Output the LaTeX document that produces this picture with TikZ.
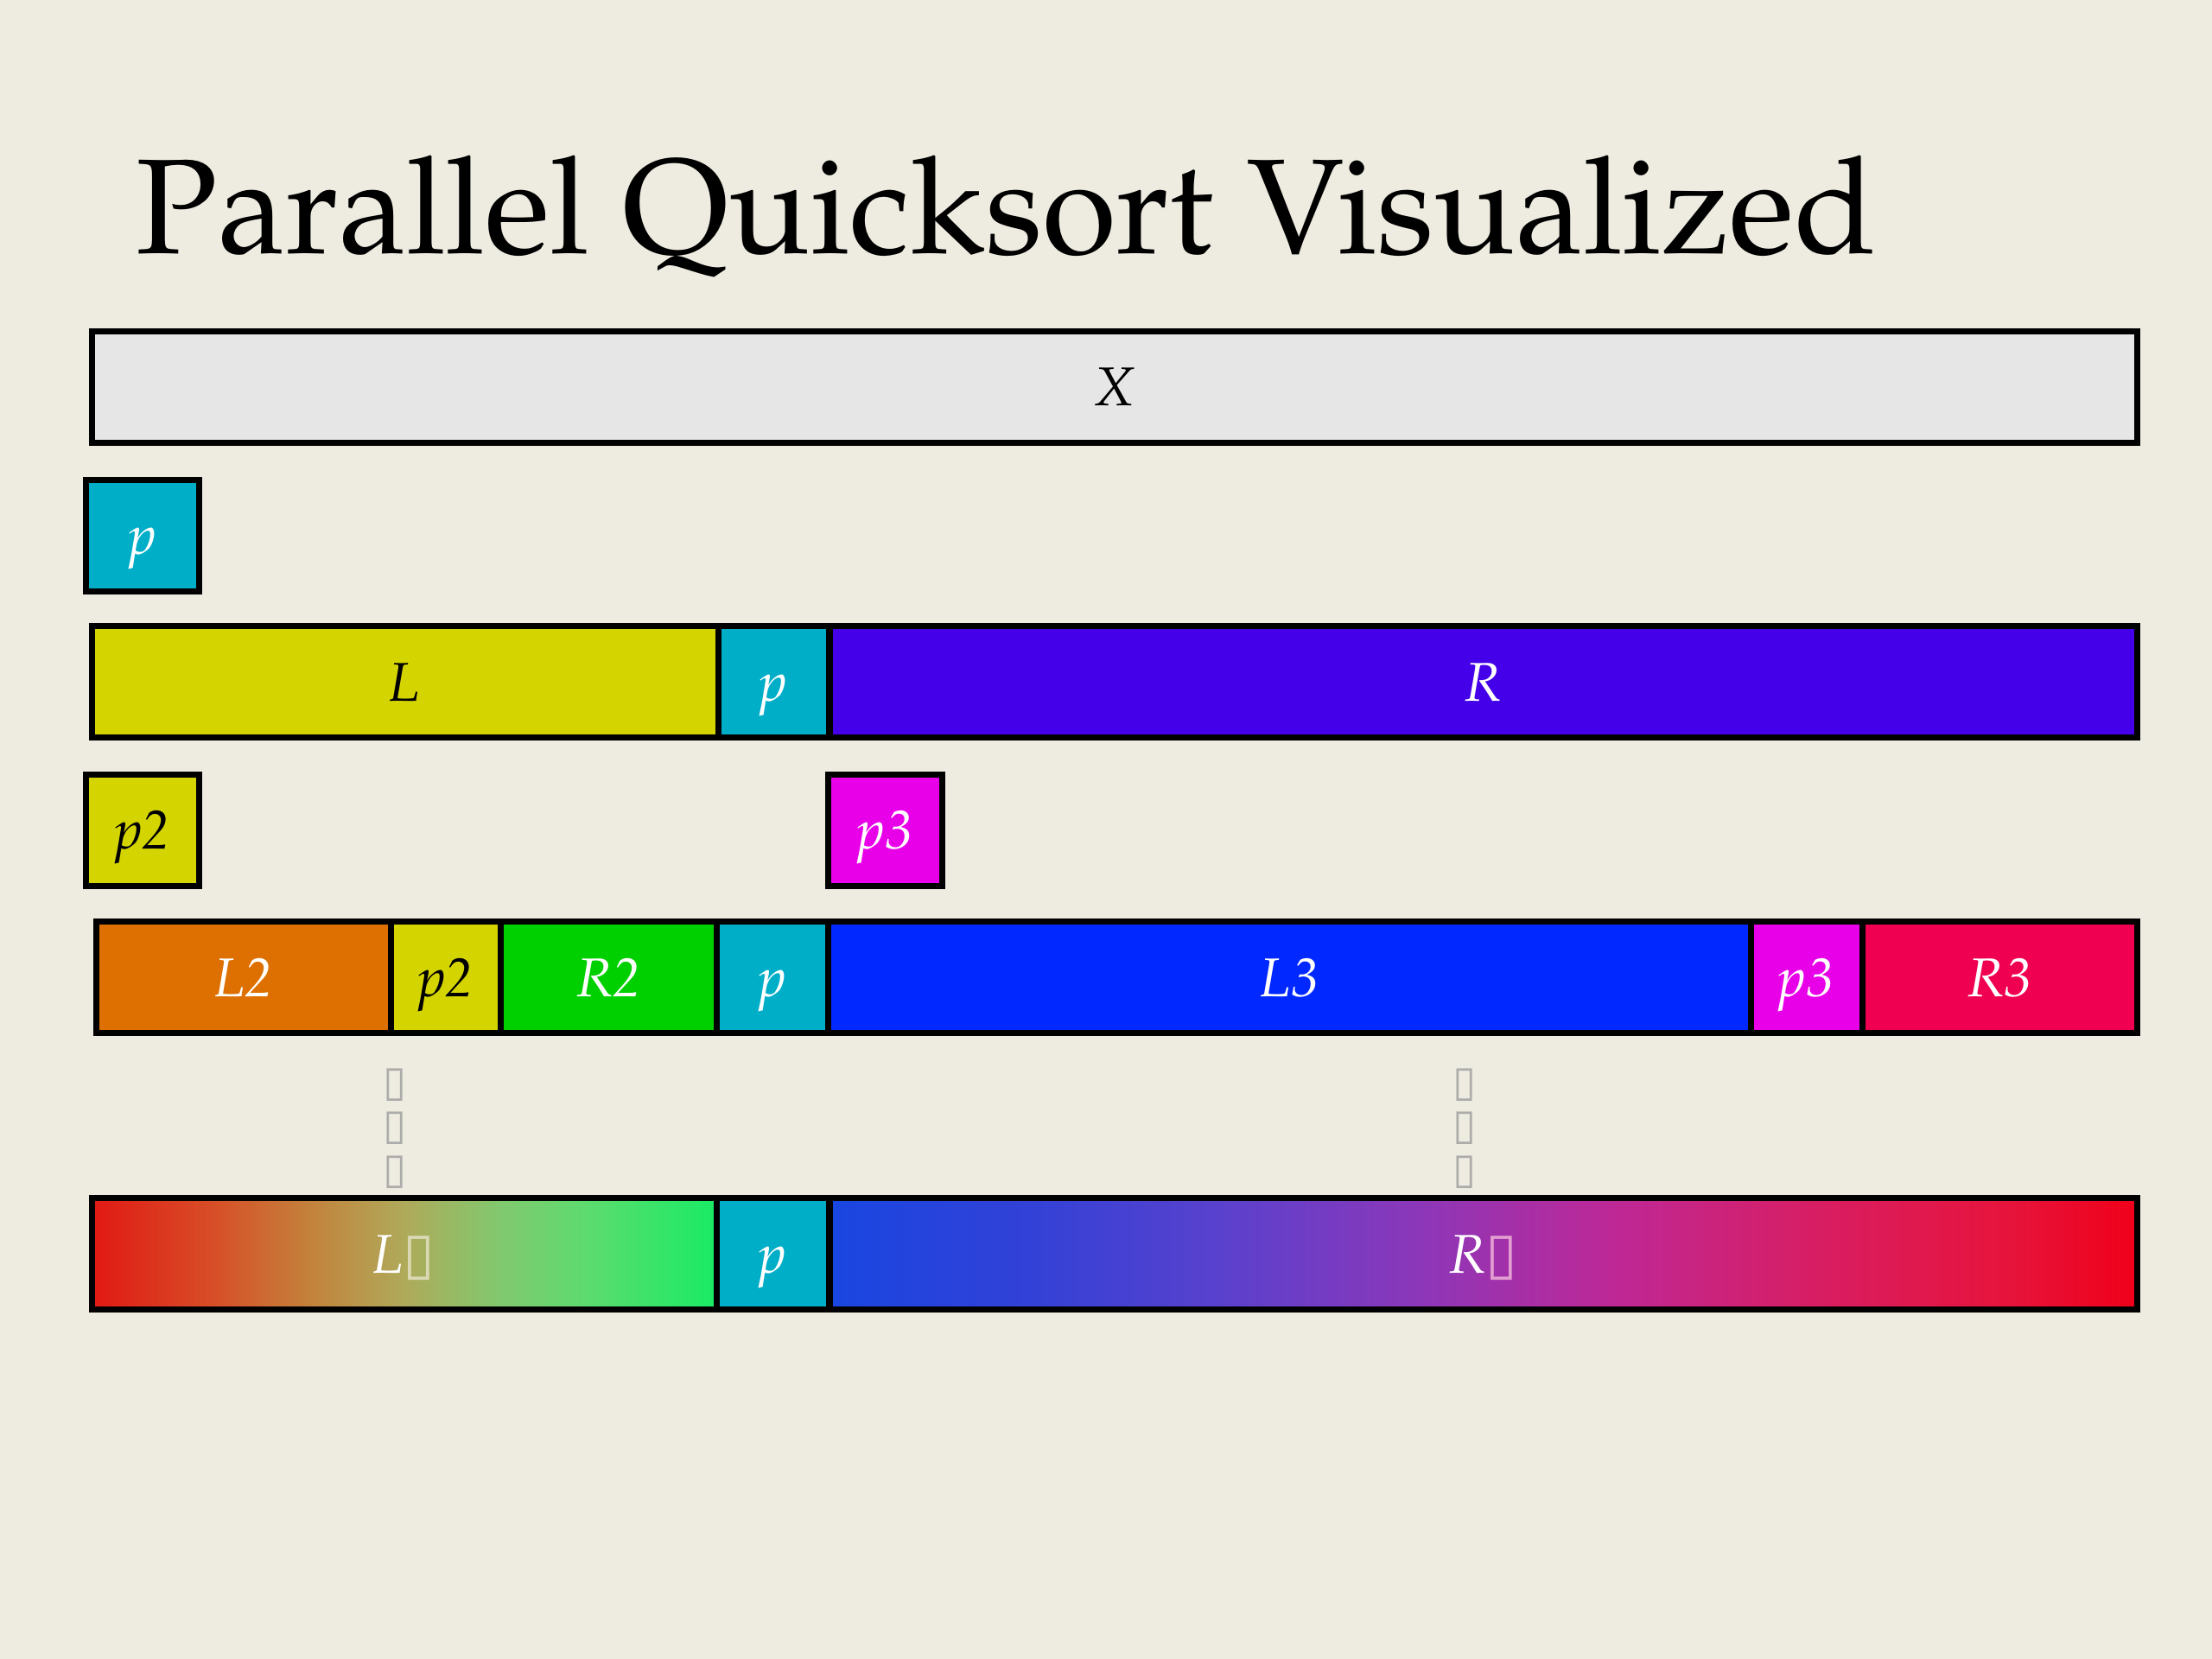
\documentclass[tikz,border=0pt]{standalone}
\usepackage[T1]{fontenc}
\usepackage{mathpazo}
\usepackage{tikz}
\usetikzlibrary{positioning}
\font\tofusmall="DejaVu Sans" at 14pt
\font\tofubig="DejaVu Sans" at 19pt
\newcommand{\px}{0.016327cm}
\definecolor{mbg}{RGB}{238,235,224}
\definecolor{mgray}{RGB}{230,230,230}
\definecolor{mteal}{RGB}{0,174,200}
\definecolor{myellow}{RGB}{212,212,0}
\definecolor{mviolet}{RGB}{68,0,232}
\definecolor{mmagenta}{RGB}{232,0,232}
\definecolor{morange}{RGB}{221,112,0}
\definecolor{mgreen}{RGB}{0,208,0}
\definecolor{mblue}{RGB}{0,40,255}
\definecolor{mred}{RGB}{240,0,80}
\definecolor{mtofu}{RGB}{172,172,170}
\definecolor{la}{RGB}{225,25,20}
\definecolor{lb}{RGB}{215,80,40}
\definecolor{lc}{RGB}{195,130,60}
\definecolor{ld}{RGB}{175,170,90}
\definecolor{le}{RGB}{130,200,110}
\definecolor{lf}{RGB}{90,220,110}
\definecolor{lg}{RGB}{25,235,100}
\definecolor{ra}{RGB}{25,70,225}
\definecolor{rb}{RGB}{50,65,215}
\definecolor{rc}{RGB}{90,65,205}
\definecolor{rd}{RGB}{140,55,185}
\definecolor{re}{RGB}{190,40,150}
\definecolor{rf}{RGB}{215,30,100}
\definecolor{rg}{RGB}{230,20,60}
\definecolor{rh}{RGB}{240,0,25}
\pgfdeclarehorizontalshading{lfinal}{100bp}{color(0bp)=(la); color(25bp)=(la); color(35bp)=(lb);
  color(42.5bp)=(lc); color(50bp)=(ld); color(57.5bp)=(le); color(65bp)=(lf);
  color(75bp)=(lg); color(100bp)=(lg)}
\pgfdeclarehorizontalshading{rfinal}{100bp}{color(0bp)=(ra); color(25bp)=(ra); color(32.5bp)=(rb);
  color(40bp)=(rc); color(47.5bp)=(rd); color(55bp)=(re); color(62.5bp)=(rf);
  color(70bp)=(rg); color(75bp)=(rh); color(100bp)=(rh)}
\tikzset{seg/.style = {draw=black, line width=2pt, minimum height=79*\px,
                       inner sep=0pt, outer sep=0pt, text=white,
                       text height=12.4pt, text depth=0pt,
                       font=\fontsize{18}{20}\selectfont\itshape},
         tofu/.style = {text=mtofu, inner sep=0pt, font=\tofusmall}}

\begin{document}
\begin{tikzpicture}[x=\px, y=-\px]
    \fill [mbg] (0, 0) rectangle (1568, 1176);
    \useasboundingbox (0, 0) rectangle (1568, 1176);

    \node [anchor=base west, font=\fontsize{44.5}{52}\selectfont] (title) at (89, 180)
          {Parallel Quicksort Visualized};

    \node [seg, fill=mgray, text=black, minimum width=1450*\px, anchor=west] (X) at (65, 274.5) {X};
    \node [seg, fill=mteal, minimum width=80*\px, anchor=west] (piv) at (61, 379.5) {p};

    \node [seg, fill=myellow, text=black, minimum width=444*\px, anchor=west] (L) at (65, 483.5) {L};
    \node [seg, fill=mteal, minimum width=79*\px, right=0pt of L] (pL) {p};
    \node [seg, fill=mviolet, minimum width=927*\px, right=0pt of pL] (R) {R};

    \node [seg, fill=myellow, text=black, minimum width=80*\px, anchor=west] (pivL) at (61, 588.5) {p2};
    \node [seg, fill=mmagenta, minimum width=81*\px, anchor=west] (pivR) at (587, 588.5) {p3};

    \node [seg, fill=morange, minimum width=209*\px, anchor=west] (LL) at (68, 693) {L2};
    \node [seg, fill=myellow, text=black, minimum width=78*\px, right=0pt of LL] (pLL) {p2};
    \node [seg, fill=mgreen, minimum width=153*\px, right=0pt of pLL] (RL) {R2};
    \node [seg, fill=mteal, minimum width=79*\px, right=0pt of RL] (pM) {p};
    \node [seg, fill=mblue, minimum width=654*\px, right=0pt of pM] (LR) {L3};
    \node [seg, fill=mmagenta, minimum width=79*\px, right=0pt of LR] (pRR) {p3};
    \node [seg, fill=mred, minimum width=195*\px, right=0pt of pRR] (RR) {R3};

    \foreach \y [count=\i] in {769, 800, 831} {
        \node [tofu] (dotsL-\i) at (280, \y) {\char"25AF};
        \node [tofu] (dotsR-\i) at (1038, \y) {\char"25AF};
    }

    \node [seg, shading=lfinal, minimum width=443*\px, anchor=west] (Lend) at (65, 889)
          {L{\tofubig\color{white!55!ld}\char"25AF}};
    \node [seg, fill=mteal, minimum width=80*\px, right=0pt of Lend] (pend) {p};
    \node [seg, shading=rfinal, minimum width=927*\px, right=0pt of pend] (Rend)
          {R{\tofubig\color{white!55!re}\char"25AF}};
\end{tikzpicture}
\end{document}
